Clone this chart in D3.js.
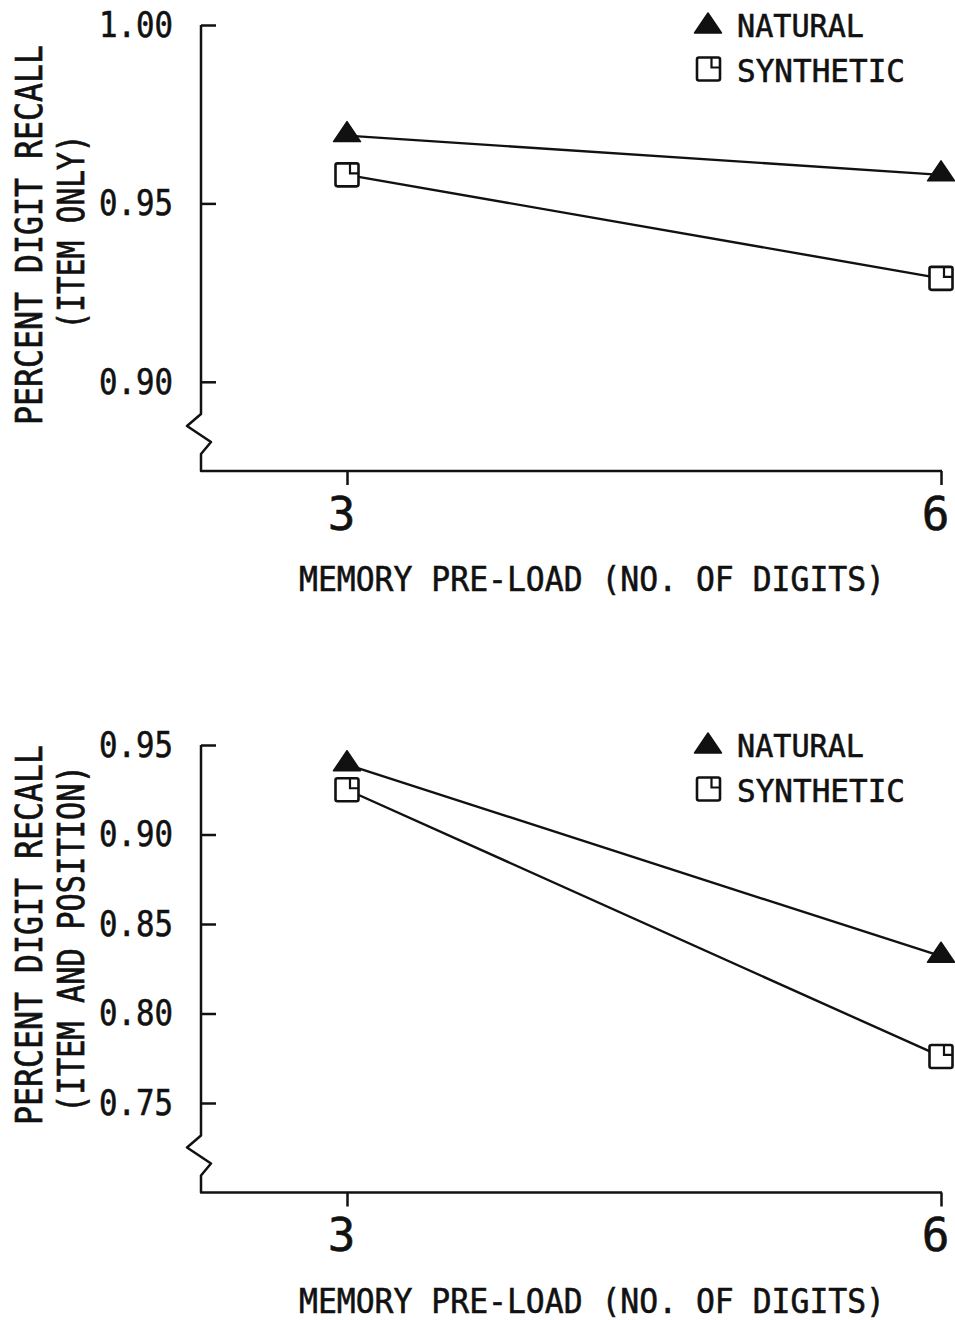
<!DOCTYPE html>
<html>
<head>
<meta charset="utf-8">
<script src="https://cdn.jsdelivr.net/npm/d3@7"></script>
<style>
  body { margin: 0; background: #fff; }
  text { font-family: "DejaVu Sans Mono", monospace; fill: #111; stroke: #111; stroke-width: 0.6px; }
</style>
</head>
<body>
<div id="chart"></div>
<script>
  // data
  const preload = [3, 6];
  const seriesNames = ["NATURAL", "SYNTHETIC"];
  const itemOnlyNatural = [0.969, 0.958];
  const itemOnlySynthetic = [0.958, 0.929];
  const itemPosNatural = [0.939, 0.832];
  const itemPosSynthetic = [0.925, 0.776];
  const itemOnlyTicks = [0.90, 0.95, 1.00];
  const itemPosTicks = [0.75, 0.80, 0.85, 0.90, 0.95];

  const width = 955, height = 1320;
  const ink = "#111";

  const svg = d3.select("#chart")
    .append("svg")
    .attr("width", width)
    .attr("height", height);

  svg.append("rect").attr("width", width).attr("height", height).attr("fill", "#fff").attr("stroke", "none");

  const x = d3.scaleLinear().domain([3, 6]).range([347, 941]);
  const axisX = 201, axisEnd = 942;

  const panels = [
    { domain: [0.875, 1.00], range: [471, 25], ticks: itemOnlyTicks,
      natural: itemOnlyNatural, synthetic: itemOnlySynthetic,
      title2: "(ITEM ONLY)", title1Len: 380, title2Len: 195,
      title1Mid: 235, title2Mid: 232 },
    { domain: [0.70, 0.95], range: [1192.5, 745], ticks: itemPosTicks,
      natural: itemPosNatural, synthetic: itemPosSynthetic,
      title2: "(ITEM AND POSITION)", title1Len: 380, title2Len: 348,
      title1Mid: 935, title2Mid: 939 }
  ];

  // triangle and square markers
  function triangle(g, cx, cy) {
    g.append("path")
      .attr("d", `M${cx},${cy - 14} L${cx + 13.5},${cy + 6} L${cx - 13.5},${cy + 6} Z`)
      .attr("fill", ink)
      .attr("stroke", ink)
      .attr("stroke-width", 1.5)
      .attr("stroke-linejoin", "round");
  }
  function square(g, cx, cy) {
    g.append("rect")
      .attr("x", cx - 11.5).attr("y", cy - 11.5)
      .attr("width", 23).attr("height", 23)
      .attr("rx", 2)
      .attr("fill", "#fff")
      .attr("stroke", ink)
      .attr("stroke-width", 2.6);
    g.append("path")
      .attr("d", `M${cx + 3},${cy - 11.5} V${cy - 1.5} H${cx + 11.5}`)
      .attr("fill", "none")
      .attr("stroke", ink)
      .attr("stroke-width", 2.2);
  }

  panels.forEach(function (p) {
    const y = d3.scaleLinear().domain(p.domain).range(p.range);
    const baseY = y(p.domain[0]);
    const topY = y(p.domain[1]);
    const g = svg.append("g");

    // y axis ticks (pointing inwards) and labels
    const yAxis = g.append("g")
      .attr("transform", `translate(${axisX},0)`)
      .call(d3.axisLeft(y)
        .tickValues(p.ticks)
        .tickSizeInner(-15)
        .tickSizeOuter(0)
        .tickPadding(28)
        .tickFormat(d3.format(".2f")));
    yAxis.select(".domain").remove();
    yAxis.selectAll(".tick line").attr("stroke", ink).attr("stroke-width", 2.5);
    yAxis.selectAll(".tick text")
      .style("font-size", "35px")
      .style("font-family", "DejaVu Sans Mono")
      .attr("fill", ink)
      .attr("textLength", 74)
      .attr("lengthAdjust", "spacingAndGlyphs");

    // x axis ticks and labels
    const xAxis = g.append("g")
      .attr("transform", `translate(0,${baseY})`)
      .call(d3.axisBottom(x)
        .tickValues(preload)
        .tickSizeInner(14)
        .tickSizeOuter(0)
        .tickPadding(12)
        .tickFormat(d3.format("d")));
    xAxis.select(".domain").remove();
    xAxis.selectAll(".tick line").attr("stroke", ink).attr("stroke-width", 2.5);
    xAxis.selectAll(".tick text")
      .style("font-size", "46px")
      .style("font-family", "DejaVu Sans Mono")
      .attr("fill", ink)
      .attr("dx", -6);

    // axis frame with the break mark
    g.append("path")
      .attr("d", `M${axisX},${topY} V${baseY - 57} L${axisX - 14},${baseY - 45} L${axisX + 10},${baseY - 29} L${axisX},${baseY - 17} V${baseY} H${axisEnd}`)
      .attr("fill", "none")
      .attr("stroke", ink)
      .attr("stroke-width", 2.5)
      .attr("stroke-linejoin", "round");

    // y title (two rotated lines)
    g.append("text")
      .attr("transform", `translate(42,${p.title1Mid}) rotate(-90) scale(1,1.15)`)
      .attr("text-anchor", "middle")
      .style("font-size", "32px")
      .attr("textLength", p.title1Len)
      .attr("lengthAdjust", "spacingAndGlyphs")
      .text("PERCENT DIGIT RECALL");
    g.append("text")
      .attr("transform", `translate(84,${p.title2Mid}) rotate(-90) scale(1,1.15)`)
      .attr("text-anchor", "middle")
      .style("font-size", "32px")
      .attr("textLength", p.title2Len)
      .attr("lengthAdjust", "spacingAndGlyphs")
      .text(p.title2);

    // x title
    g.append("text")
      .attr("x", 592)
      .attr("y", baseY + 120)
      .attr("text-anchor", "middle")
      .style("font-size", "34px")
      .attr("textLength", 586)
      .attr("lengthAdjust", "spacingAndGlyphs")
      .text("MEMORY PRE-LOAD (NO. OF DIGITS)");

    // series lines
    const line = d3.line().x((d, i) => x(preload[i])).y(d => y(d));
    [p.natural, p.synthetic].forEach(function (vals) {
      g.append("path")
        .datum(vals)
        .attr("d", line)
        .attr("fill", "none")
        .attr("stroke", ink)
        .attr("stroke-width", 2.4);
    });
    p.natural.forEach((v, i) => triangle(g, x(preload[i]), y(v)));
    p.synthetic.forEach((v, i) => square(g, x(preload[i]), y(v)));

    // legend
    const ly = topY - 12;
    triangle(g, 708, ly + 14);
    square(g, 708.5, ly + 56);
    g.append("text")
      .attr("x", 737).attr("y", ly + 24)
      .style("font-size", "32px")
      .attr("textLength", 127)
      .attr("lengthAdjust", "spacingAndGlyphs")
      .text(seriesNames[0]);
    g.append("text")
      .attr("x", 737).attr("y", ly + 69)
      .style("font-size", "32px")
      .attr("textLength", 168)
      .attr("lengthAdjust", "spacingAndGlyphs")
      .text(seriesNames[1]);
  });
</script>
</body>
</html>
